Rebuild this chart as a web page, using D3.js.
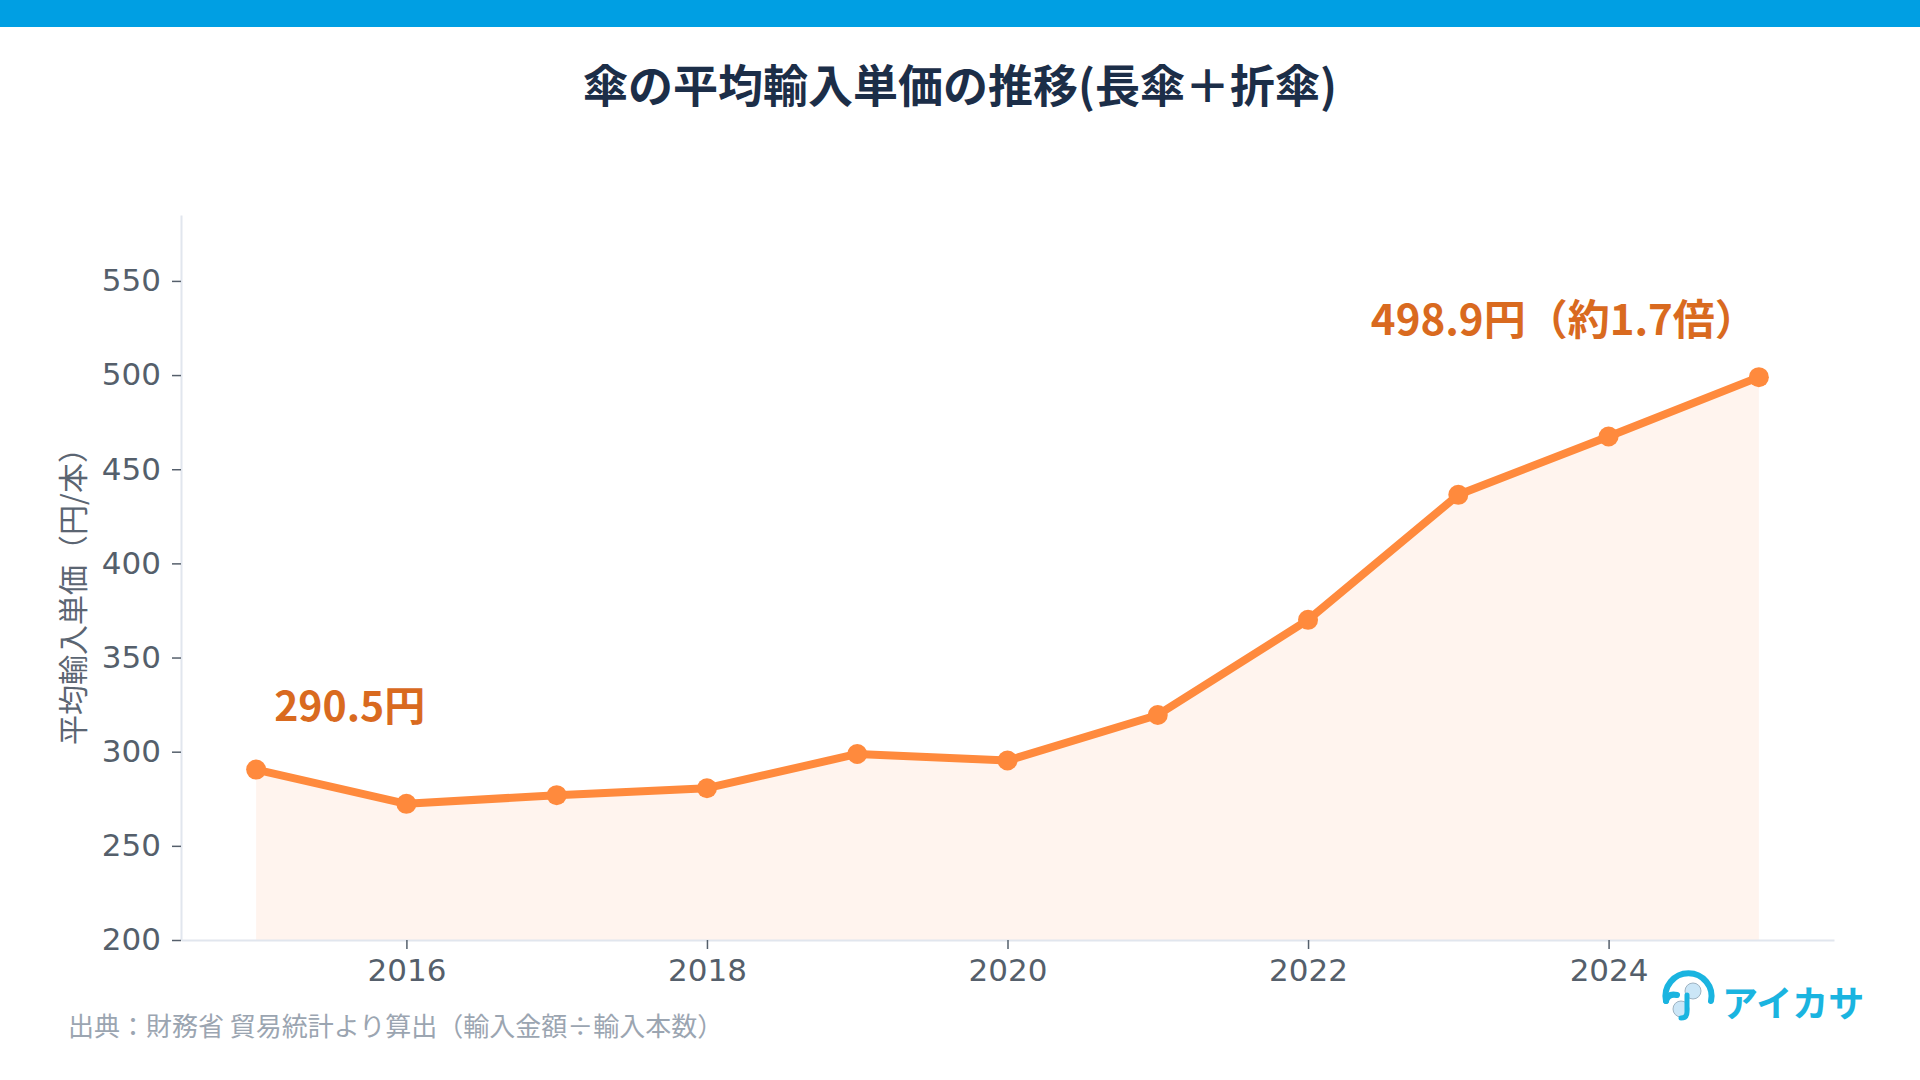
<!DOCTYPE html>
<html lang="ja">
<head>
<meta charset="utf-8">
<script src="https://cdn.jsdelivr.net/npm/d3@7"></script>
<style>
  html, body { margin: 0; padding: 0; background: #fff; }
  svg { display: block; font-family: "Noto Sans CJK JP", "Noto Sans", sans-serif; }
</style>
</head>
<body>
<svg id="chart" width="1920" height="1080"></svg>
<script>
// values
const years = [2015, 2016, 2017, 2018, 2019, 2020, 2021, 2022, 2023, 2024, 2025];
const unitPrices = [290.5, 272.3, 276.9, 280.6, 298.8, 295.3, 319.5, 370.0, 436.4, 467.4, 498.9];
const yTicks = [200, 250, 300, 350, 400, 450, 500, 550];
const xTicks = [2016, 2018, 2020, 2022, 2024];

const title = "傘の平均輸入単価の推移(長傘＋折傘)";
const yLabel = "平均輸入単価（円/本）";
const firstNote = "290.5円";
const lastNote = "498.9円（約1.7倍）";
const source = "出典：財務省 貿易統計より算出（輸入金額÷輸入本数）";

const width = 1920;
const height = 1080;
const margin = { top: 215, right: 86, bottom: 140, left: 181 };

const svg = d3.select("#chart");

const data = years.map((y, i) => ({ year: y, value: unitPrices[i] }));

const x = d3.scaleLinear()
  .domain([2014.5, 2025.5])
  .range([margin.left, width - margin.right]);

const y = d3.scaleLinear()
  .domain([200, 585])
  .range([height - margin.bottom, margin.top]);

// top band
svg.append("rect")
  .attr("x", 0).attr("y", 0)
  .attr("width", width).attr("height", 27)
  .attr("fill", "#009fe3");

svg.append("text")
  .attr("x", width / 2)
  .attr("y", 103)
  .attr("text-anchor", "middle")
  .attr("font-size", 45)
  .attr("font-weight", 700)
  .attr("fill", "#1c2e48")
  .text(title);

// area under the line
const area = d3.area()
  .x((d) => x(d.year))
  .y0(y(200))
  .y1((d) => y(d.value));

svg.append("path")
  .datum(data)
  .attr("d", area)
  .attr("fill", "#fff4ee");

// axes
const yAxis = svg.append("g")
  .attr("transform", `translate(${margin.left},0)`)
  .call(d3.axisLeft(y).tickValues(yTicks).tickSize(9).tickPadding(11).tickSizeOuter(0));

const xAxis = svg.append("g")
  .attr("transform", `translate(0,${height - margin.bottom})`)
  .call(d3.axisBottom(x).tickValues(xTicks).tickFormat(d3.format("d")).tickSize(9).tickPadding(10).tickSizeOuter(0));

[yAxis, xAxis].forEach((g) => {
  g.select(".domain").attr("stroke", "#e1e6ee").attr("stroke-width", 2);
  g.selectAll(".tick line").attr("stroke", "#555f6b").attr("stroke-width", 1.5);
  g.selectAll(".tick text")
    .attr("fill", "#555f6b")
    .attr("font-size", 31)
    .attr("font-family", "\"DejaVu Sans\", sans-serif");
});

svg.append("text")
  .attr("transform", "translate(84,589) rotate(-90)")
  .attr("text-anchor", "middle")
  .attr("font-size", 30)
  .attr("fill", "#5b6572")
  .text(yLabel);

// line + markers
const line = d3.line()
  .x((d) => x(d.year))
  .y((d) => y(d.value));

svg.append("path")
  .datum(data)
  .attr("d", line)
  .attr("fill", "none")
  .attr("stroke", "#ff8a3d")
  .attr("stroke-width", 8)
  .attr("stroke-linejoin", "round");

svg.append("g")
  .selectAll("circle")
  .data(data)
  .enter()
  .append("circle")
  .attr("cx", (d) => x(d.year))
  .attr("cy", (d) => y(d.value))
  .attr("r", 10)
  .attr("fill", "#ff8a3d");

// notes on the first and last point
const first = data[0];
const last = data[data.length - 1];

svg.append("text")
  .attr("x", x(first.year) + 18)
  .attr("y", y(first.value) - 49)
  .attr("font-size", 41)
  .attr("font-weight", 700)
  .attr("fill", "#d96a1f")
  .text(firstNote);

svg.append("text")
  .attr("x", x(last.year) - 388)
  .attr("y", y(last.value) - 42)
  .attr("font-size", 42)
  .attr("font-weight", 700)
  .attr("fill", "#d96a1f")
  .text(lastNote);

// source
svg.append("text")
  .attr("x", 68)
  .attr("y", 1036)
  .attr("font-size", 26)
  .attr("fill", "#9ba5b1")
  .text(source);

// logo
const logo = svg.append("g");
logo.append("path")
  .attr("d", "M1666,1001 A23,23 0 1 1 1711,1001")
  .attr("fill", "none")
  .attr("stroke", "#1ab4e0")
  .attr("stroke-width", 6)
  .attr("stroke-linecap", "round");
logo.append("path")
  .attr("d", "M1666,1001 Q1668,993 1677,995")
  .attr("fill", "none")
  .attr("stroke", "#1ab4e0")
  .attr("stroke-width", 6)
  .attr("stroke-linecap", "round");
logo.append("circle")
  .attr("cx", 1693).attr("cy", 991).attr("r", 8)
  .attr("fill", "#cbe6f7").attr("stroke", "#9fb3c2").attr("stroke-width", 1);
logo.append("circle")
  .attr("cx", 1681).attr("cy", 1009).attr("r", 8)
  .attr("fill", "#cbe6f7").attr("stroke", "#9fb3c2").attr("stroke-width", 1);
logo.append("path")
  .attr("d", "M1687,995 L1687,1012 Q1687,1018 1681,1018")
  .attr("fill", "none")
  .attr("stroke", "#1ab4e0")
  .attr("stroke-width", 5)
  .attr("stroke-linecap", "round");
logo.append("text")
  .attr("x", 1722)
  .attr("y", 1001)
  .attr("dominant-baseline", "central")
  .attr("font-size", 36)
  .attr("font-weight", 700)
  .attr("fill", "#1ab4e0")
  .text("アイカサ");
</script>
</body>
</html>
